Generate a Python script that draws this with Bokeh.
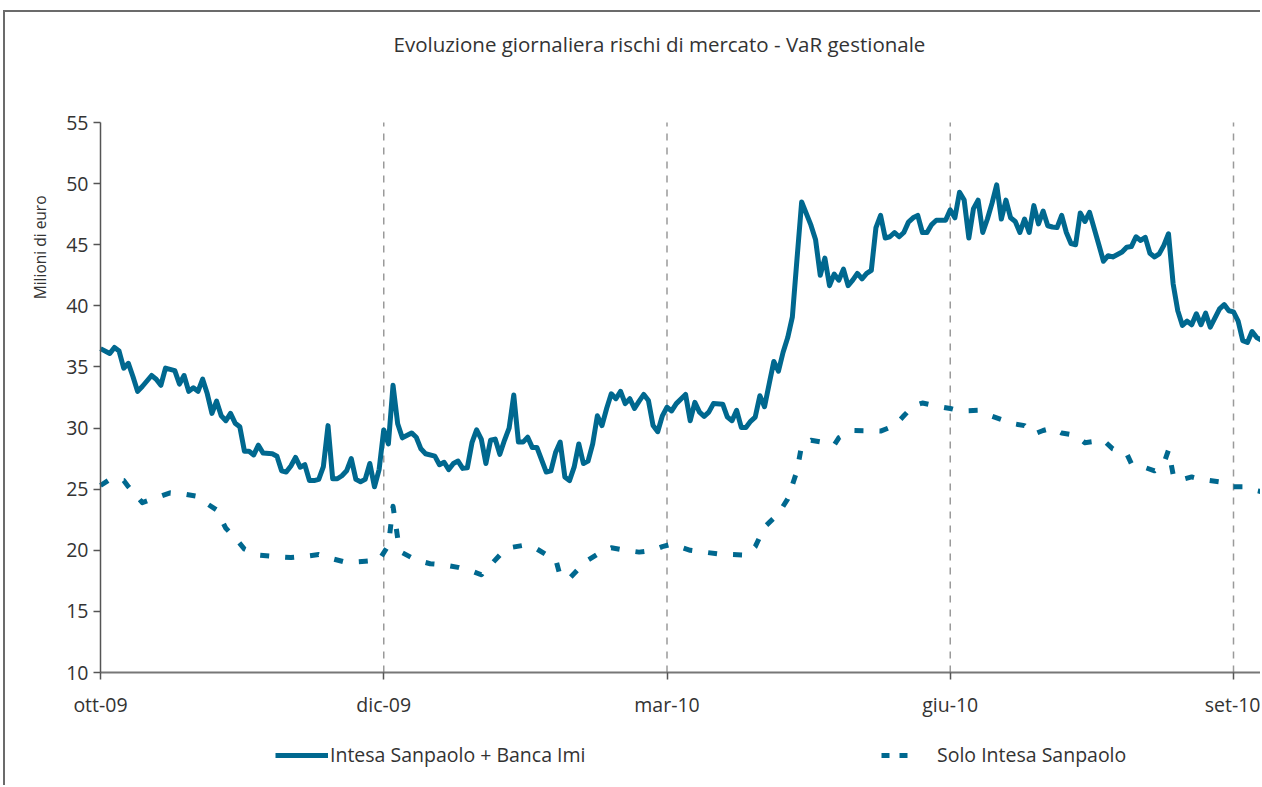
from bokeh.plotting import figure
from bokeh.models import (ColumnDataSource, FixedTicker, Range1d, Legend, LegendItem, Title)
from bokeh.embed import file_html
from bokeh.resources import INLINE

# ---------------- data ----------------
chart_title = "Evoluzione giornaliera rischi di mercato - VaR gestionale"
y_label = "Milioni di euro"
tick_days = [0, 61, 122, 183, 244]
tick_labels = ["ott-09", "dic-09", "mar-10", "giu-10", "set-10"]
y_ticks = [10, 15, 20, 25, 30, 35, 40, 45, 50, 55]
y_min, y_max = 10, 55
series_names = ["Intesa Sanpaolo + Banca Imi", "Solo Intesa Sanpaolo"]

# trading-day index / value (Intesa Sanpaolo + Banca Imi)
total_days = [0, 2, 3, 4, 5, 6, 7, 8, 9, 11, 12, 13, 14, 15, 16, 17, 18, 19, 20, 21, 22, 23, 24, 25,
              26, 27, 28, 29, 30, 31, 32, 33, 34, 35, 37, 38, 39, 40, 41, 42, 43, 44, 45, 46, 47, 48,
              49, 50, 51, 52, 53, 54, 55, 56, 57, 58, 59, 60, 61, 62, 63, 64, 65, 67, 68, 69, 70, 72,
              73, 74, 75, 76, 77, 78, 79, 80, 81, 82, 83, 84, 85, 86, 87, 88, 89, 90, 91, 92, 93, 94,
              96, 97, 98, 99, 100, 101, 102, 103, 104, 105, 106, 107, 108, 109, 110, 111, 112, 113,
              114, 115, 116, 117, 118, 119, 120, 121, 122, 123, 124, 126, 127, 128, 129, 130, 131,
              132, 134, 135, 136, 137, 138, 139, 140, 141, 142, 143, 144, 145, 146, 147, 148, 149,
              150, 151, 153, 154, 155, 156, 157, 158, 159, 160, 161, 162, 163, 164, 165, 166, 167,
              168, 169, 170, 171, 172, 173, 174, 175, 176, 177, 178, 179, 180, 182, 183, 184, 185,
              186, 187, 188, 189, 190, 191, 192, 193, 194, 195, 196, 197, 198, 199, 200, 201, 202,
              203, 204, 205, 206, 207, 208, 209, 210, 211, 212, 213, 215, 216, 217, 218, 219, 220,
              221, 222, 223, 224, 225, 226, 227, 228, 229, 230, 231, 232, 233, 234, 235, 236, 237,
              238, 239, 241, 242, 243, 244, 245, 246, 247, 248, 249, 250]
total_var = [36.5, 36.1, 36.6, 36.3, 34.9, 35.3, 34.2, 33.0, 33.4, 34.3, 34.0, 33.5, 34.9, 34.8, 34.7,
             33.6, 34.3, 33.0, 33.3, 33.0, 34.0, 32.8, 31.2, 32.2, 31.0, 30.6, 31.2, 30.4, 30.1, 28.1,
             28.1, 27.8, 28.6, 27.95, 27.9, 27.7, 26.5, 26.4, 26.9, 27.6, 26.8, 27.0, 25.7, 25.7, 25.8,
             26.85, 30.2, 25.85, 25.85, 26.1, 26.5, 27.5, 25.8, 25.6, 25.8, 27.1, 25.2, 26.6, 29.85,
             28.7, 33.5, 30.35, 29.2, 29.6, 29.25, 28.3, 27.9, 27.7, 27.0, 27.2, 26.6, 27.1, 27.3, 26.7,
             26.75, 28.8, 29.85, 29.1, 27.1, 29.0, 29.1, 27.85, 29.0, 30.0, 32.7, 28.85, 28.85, 29.25,
             28.4, 28.4, 26.4, 26.5, 28.0, 28.85, 26.0, 25.7, 26.8, 28.7, 27.1, 27.3, 28.7, 31.0, 30.2,
             31.6, 32.8, 32.4, 33.0, 32.0, 32.4, 31.6, 32.2, 32.75, 32.25, 30.2, 29.7, 31.0, 31.7,
             31.4, 32.0, 32.75, 30.6, 32.1, 31.3, 30.95, 31.3, 32.0, 31.95, 30.9, 30.6, 31.45, 30.05,
             30.05, 30.55, 30.9, 32.65, 31.75, 33.6, 35.45, 34.65, 36.2, 37.4, 39.1, 43.85, 48.5,
             46.6, 45.4, 42.5, 43.9, 41.65, 42.6, 42.1, 43.0, 41.65, 42.1, 42.65, 42.2, 42.65, 42.9,
             46.4, 47.4, 45.55, 45.65, 46.0, 45.65, 46.0, 46.85, 47.2, 47.4, 46.0, 46.0, 46.65, 47.0,
             47.0, 47.85, 47.2, 49.3, 48.65, 45.55, 47.95, 48.65, 46.0, 47.1, 48.4, 49.9, 47.1, 48.65,
             47.2, 46.9, 46.0, 47.1, 46.0, 48.2, 46.7, 47.75, 46.55, 46.45, 46.4, 47.4, 46.0, 45.1,
             45.0, 47.6, 46.9, 47.65, 45.0, 43.65, 44.1, 44.0, 44.2, 44.4, 44.8, 44.85, 45.65, 45.35,
             45.6, 44.3, 44.0, 44.25, 44.95, 45.9, 41.8, 39.6, 38.4, 38.75, 38.45, 39.35, 38.45, 39.4,
             38.25, 39.75, 40.1, 39.6, 39.5, 38.75, 37.15, 37.0, 37.9, 37.4, 37.2]

# trading-day index / value (Solo Intesa Sanpaolo)
isp_days = [0, 2, 5, 6, 9, 12, 15, 18, 21, 23, 25, 27, 29, 31, 34, 37, 41, 44, 47, 50, 53, 57, 60, 62,
            63, 64, 65, 68, 71, 74, 77, 80, 82, 84, 86, 88, 91, 94, 97, 98, 99, 101, 103, 105, 108,
            110, 113, 116, 119, 121, 123, 127, 133, 139, 141, 143, 146, 148, 150, 151, 153, 156, 158,
            159, 162, 168, 171, 173, 175, 177, 180, 183, 185, 189, 191, 194, 196, 199, 201, 203, 205,
            207, 210, 212, 216, 218, 221, 222, 224, 227, 229, 230, 231, 232, 235, 237, 241, 243, 246,
            248, 250]
isp_var = [25.3, 25.8, 25.7, 25.2, 23.9, 24.3, 24.7, 24.6, 24.4, 23.8, 23.3, 21.8, 21.0, 20.1, 19.6,
           19.5, 19.4, 19.5, 19.65, 19.3, 19.0, 19.1, 19.2, 20.4, 23.6, 21.0, 19.8, 19.2, 18.9, 18.8,
           18.6, 18.3, 18.0, 18.8, 19.6, 20.2, 20.4, 20.1, 19.4, 19.3, 17.9, 17.7, 18.5, 19.2, 19.9,
           20.2, 20.0, 19.85, 20.0, 20.3, 20.5, 20.0, 19.7, 19.6, 20.3, 21.9, 23.0, 24.2, 26.5, 28.6,
           29.0, 28.8, 28.6, 29.2, 29.8, 29.75, 30.2, 31.0, 31.8, 32.05, 31.8, 31.6, 31.4, 31.45,
           31.1, 30.7, 30.4, 30.2, 29.5, 29.8, 30.0, 29.6, 29.4, 28.8, 29.0, 28.3, 27.9, 27.1, 26.9,
           26.5, 27.1, 28.2, 26.2, 25.7, 26.0, 25.8, 25.6, 25.2, 25.2, 24.95, 24.8]

# ---------------- style ----------------
BLUE = "#00688F"
FONT = "Open Sans"
TXT = "#333333"
FS = "19.5px"

W, H = 1257, 775
# pixel scales of the reference: 550 px for 10..55, 4.643 px per trading day
px_per_unit = 550 / (y_max - y_min)
px_per_day = 1133 / tick_days[-1]
top_pad = 22          # room above the 55 tick label
frame_h, frame_w = 685, 1202
axis_gap = 40         # px between frame left edge and value axis (room for tick labels)
y_end = y_max + top_pad / px_per_unit
y_start = y_end - frame_h / px_per_unit
x_start = -axis_gap / px_per_day
x_end = x_start + frame_w / px_per_day

p = figure(width=W, height=H, output_backend="svg", toolbar_location=None,
           x_range=Range1d(x_start, x_end), y_range=Range1d(y_start, y_end),
           min_border_left=55, min_border_right=0, min_border_top=88, min_border_bottom=2)
p.styles = {"margin-left": "3px", "margin-top": "10px",
            "border-top": "2px solid #6b6b6b", "border-left": "2px solid #6b6b6b"}
p.outline_line_color = None
p.background_fill_color = "white"
p.border_fill_color = "white"

# spacer panel next to the frame, then the title above it
p.add_layout(Title(text=" ", text_font_size="1px", standoff=40), "above")
p.add_layout(Title(text=chart_title, align="left", offset=333, standoff=0, text_font=FONT,
                   text_font_size="20.5px", text_font_style="normal", text_color=TXT), "above")

# vertical dashed guides at the date ticks, spanning the value axis only
p.segment(x0=tick_days[1:], y0=[y_min] * 4, x1=tick_days[1:], y1=[y_max] * 4,
          line_color="#9a9a9a", line_width=1.5, line_dash="7 7")

src_total = ColumnDataSource(dict(x=total_days, y=total_var))
src_isp = ColumnDataSource(dict(x=isp_days, y=isp_var))

r_total = p.line("x", "y", source=src_total, line_color=BLUE, line_width=5, line_join="round")
r_isp = p.line("x", "y", source=src_isp, line_color=BLUE, line_width=5, line_dash="9 16",
               line_join="round", line_cap="butt")
# legend-only glyph for the dashed series sample
r_isp_key = p.line(x=[float("nan")], y=[float("nan")], line_color=BLUE, line_width=5,
                   line_dash="8 10")

# axes
xa = p.xaxis[0]
xa.fixed_location = y_min
xa.bounds = (tick_days[0], x_end)
xa.ticker = FixedTicker(ticks=tick_days)
xa.major_label_overrides = {d: l for d, l in zip(tick_days, tick_labels)}
xa.minor_tick_line_color = None
xa.axis_line_color = "#777777"
xa.axis_line_width = 2
xa.major_tick_line_color = "#555555"
xa.major_tick_line_width = 1.5
xa.major_tick_in = 0
xa.major_tick_out = 7
xa.major_label_standoff = 11
xa.major_label_text_font = FONT
xa.major_label_text_font_size = FS
xa.major_label_text_color = TXT

ya = p.yaxis[0]
ya.fixed_location = tick_days[0]
ya.bounds = (y_min, y_max)
ya.ticker = FixedTicker(ticks=y_ticks)
ya.minor_tick_line_color = None
ya.axis_line_color = "#555555"
ya.axis_line_width = 1.5
ya.major_tick_line_color = "#555555"
ya.major_tick_line_width = 1.5
ya.major_tick_in = 0
ya.major_tick_out = 7
ya.major_label_standoff = 5
ya.major_label_text_font = FONT
ya.major_label_text_font_size = FS
ya.major_label_text_color = TXT

p.xgrid.grid_line_color = None
p.ygrid.grid_line_color = None

# y-axis title, placed near the top of the axis
p.add_layout(Title(text=y_label, align="right", offset=95, standoff=20,
                   text_font="'Liberation Sans Narrow', 'Open Sans'",
                   text_font_size="15.5px", text_font_style="normal", text_color=TXT), "left")

common = dict(orientation="horizontal", padding=0, margin=0, border_line_color=None,
              background_fill_alpha=0, glyph_height=18, label_text_font=FONT,
              label_text_font_size=FS, label_text_color=TXT)
leg1 = Legend(items=[LegendItem(label=series_names[0], renderers=[r_total])],
              location=(215, 17), glyph_width=53, label_standoff=2, **common)
leg2 = Legend(items=[LegendItem(label=series_names[1], renderers=[r_isp_key])],
              location=(821, 17), glyph_width=28, label_standoff=28, **common)
p.add_layout(leg1, "center")
p.add_layout(leg2, "center")

open("out.html", "w").write(file_html(p, INLINE))
